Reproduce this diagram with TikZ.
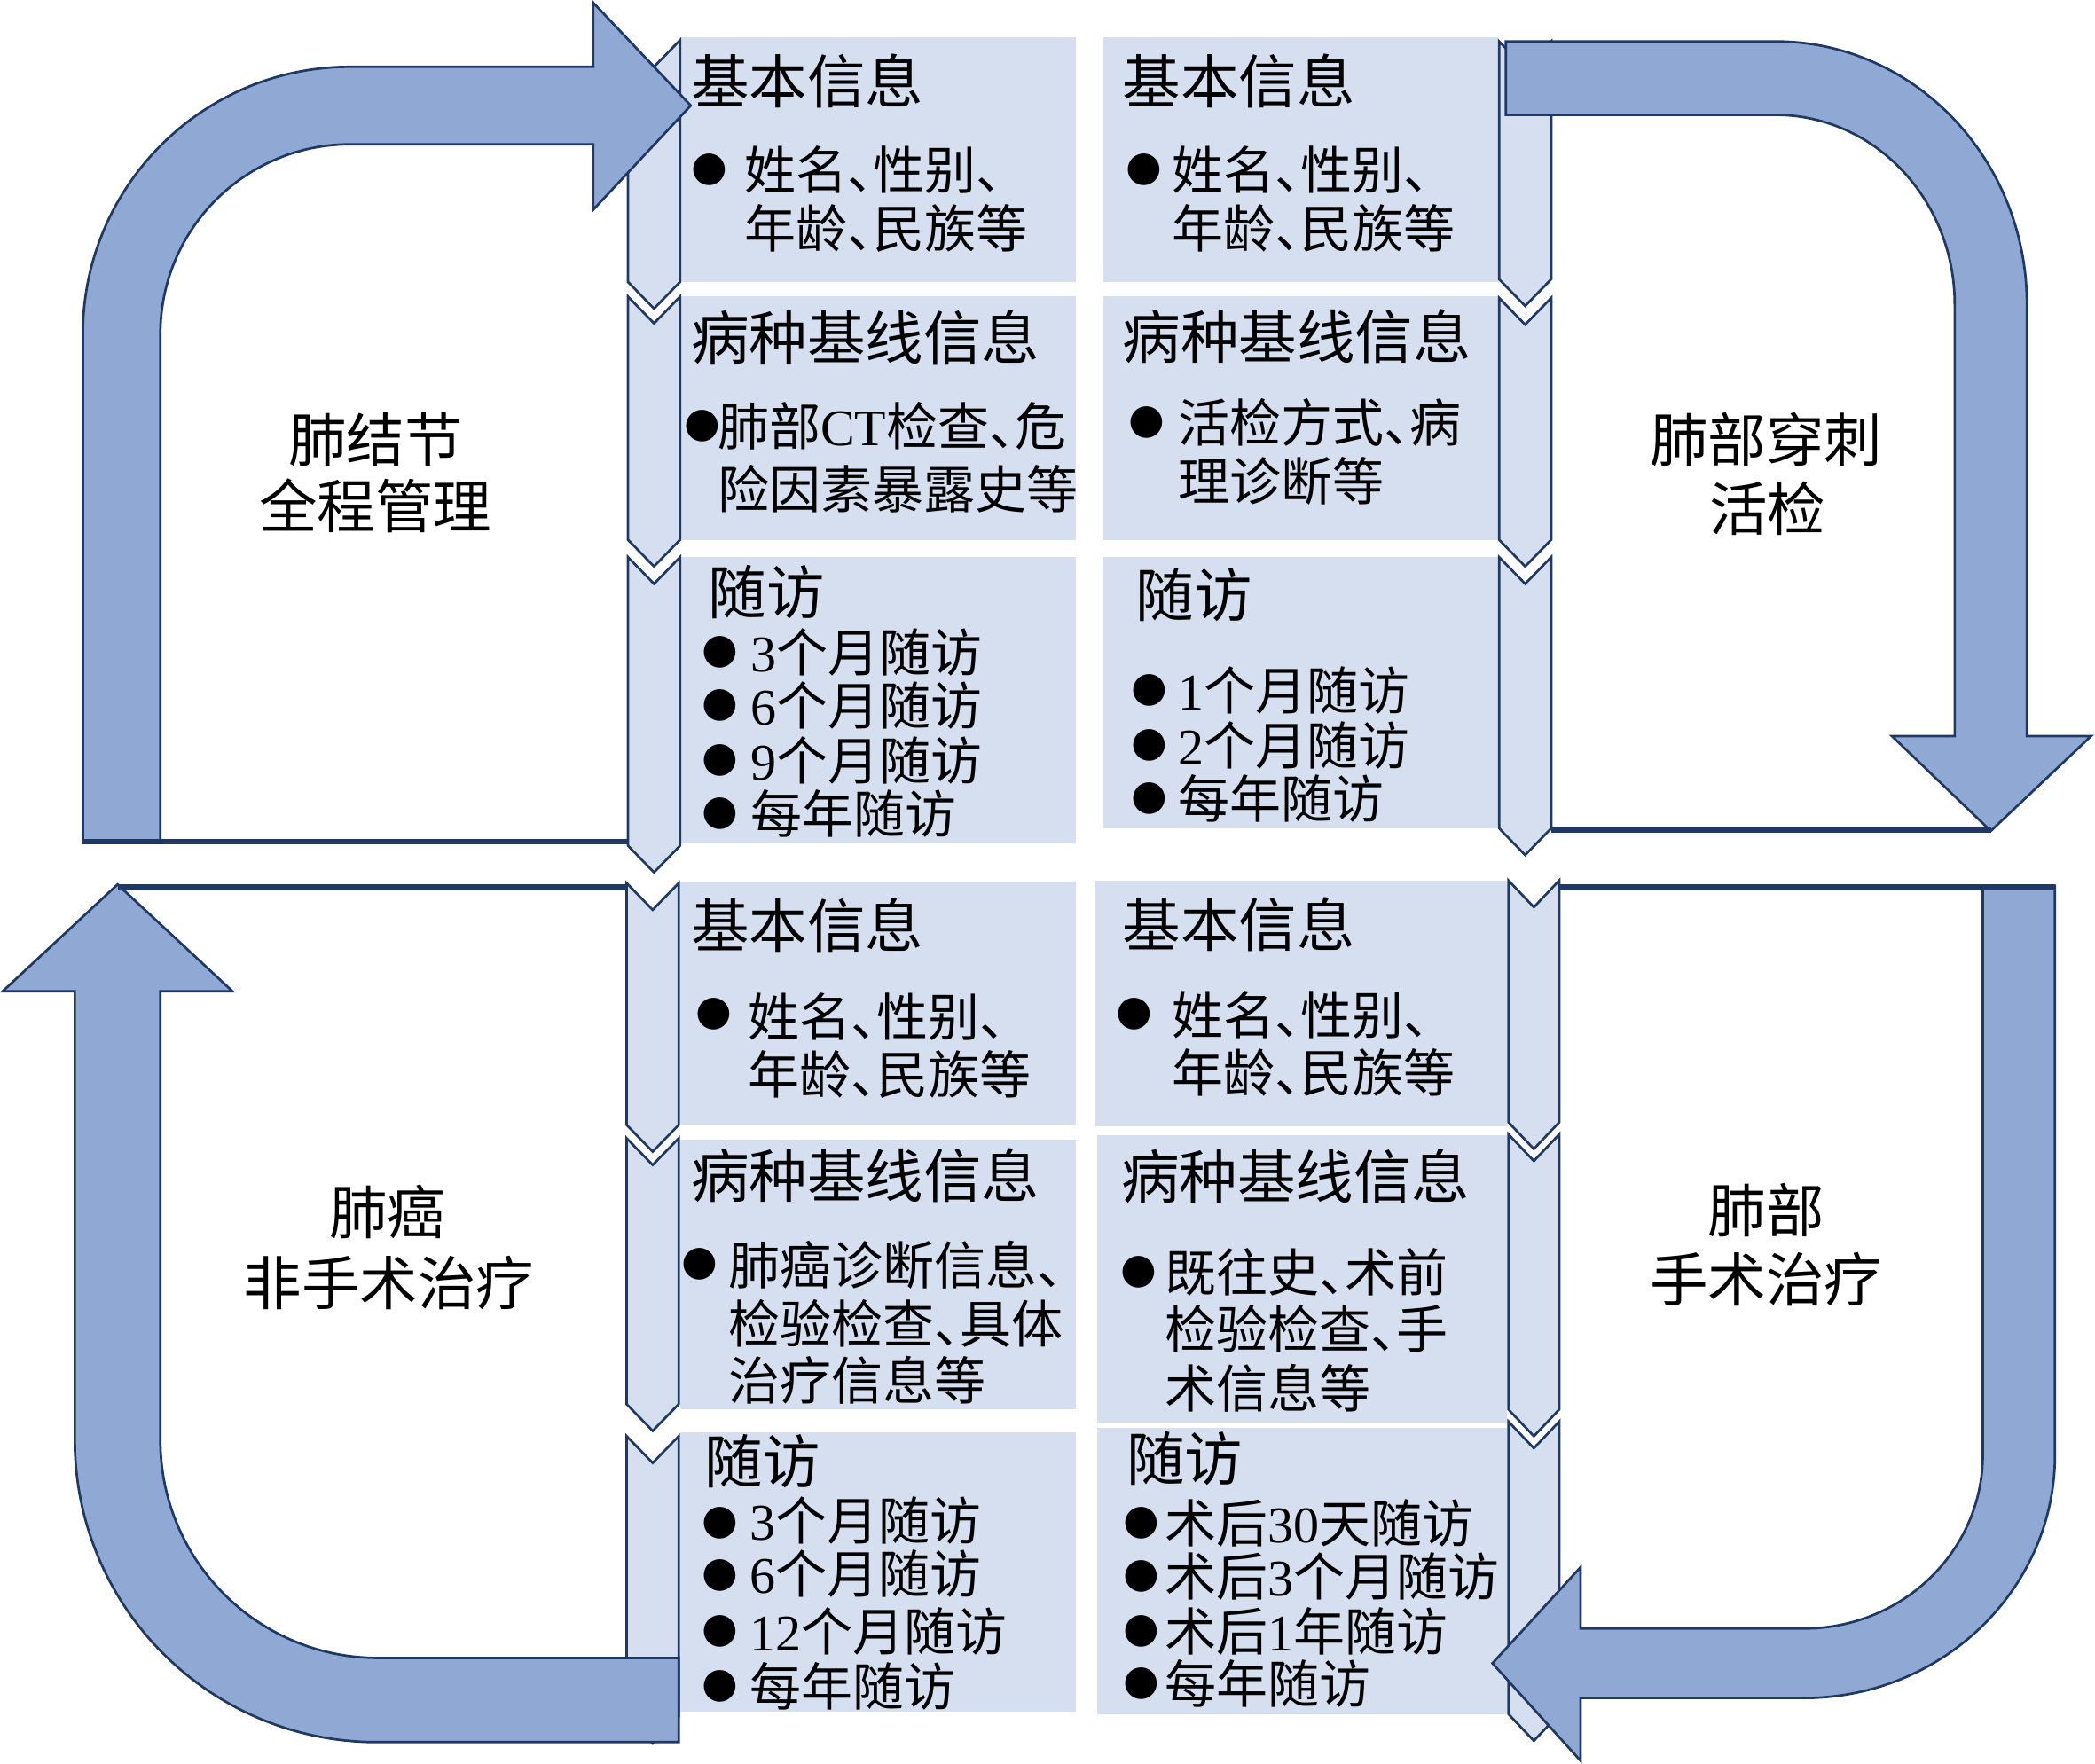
\documentclass[tikz,border=0pt]{standalone}
\usepackage{fontspec}
\setmainfont{Noto Sans CJK SC}
\newfontfamily\latf{Liberation Serif}
\newfontfamily\bulf{DejaVu Sans}
\definecolor{boxfill}{RGB}{214,223,239}
\definecolor{arrowfill}{RGB}{143,168,212}
\definecolor{navy}{RGB}{31,56,100}
\newcommand\dn{\makebox[0.5em][l]{、}}
\newcommand\nm[1]{{\latf #1}}
\tikzset{
  boxbg/.style={fill=boxfill},
  chevbox/.style={fill=boxfill, draw=navy, line width=1.8pt, line join=miter},
  bigarrow/.style={fill=arrowfill, draw=navy, line width=1.8pt, line join=miter},
  edgeline/.style={draw=navy, line width=4.5pt},
  ttl/.style={anchor=base west, inner sep=0pt, font=\fontsize{43.5}{50}\selectfont},
  bod/.style={anchor=base west, inner sep=0pt, font=\fontsize{38.5}{44}\selectfont},
  bul/.style={anchor=center, inner sep=0pt, font=\bulf\fontsize{31}{34}\selectfont},
  cen/.style={anchor=base, inner sep=0pt, font=\fontsize{43.5}{50}\selectfont},
}
% chevron: xl, xr, top, bottom
\newcommand\chevshape[4]{\draw[chevbox] (#1,#3) -- ({(#1+#2)/2},{#3+20}) -- (#2,#3) -- (#2,#4) -- ({(#1+#2)/2},{#4+20}) -- (#1,#4) -- cycle;}
% title / body / bullet / centre label: name, x, centre y, text
\newcommand\ttlnode[4]{\node[ttl] (#1) at (#2,{#3+16.5}) {#4};}
\newcommand\bodnode[4]{\node[bod] (#1) at (#2,{#3+14.6}) {#4};}
\newcommand\bulnode[3]{\node[bul] (#1) at (#2,#3) {●};}
\newcommand\cennode[4]{\node[cen] (#1) at (#2,{#3+16.5}) {#4};}
\begin{document}
\begin{tikzpicture}[x=1pt,y=-1pt]
\useasboundingbox (0,0) rectangle (1568,1320);
% ---------- boxes ----------
\fill[boxbg] (509,28) rectangle (805,211);
\fill[boxbg] (509,222) rectangle (805,404);
\fill[boxbg] (509,417) rectangle (805,631);
\fill[boxbg] (826,28) rectangle (1122,211);
\fill[boxbg] (826,222) rectangle (1122,404);
\fill[boxbg] (826,417) rectangle (1122,620);
\fill[boxbg] (509,660) rectangle (805,842);
\fill[boxbg] (509,853) rectangle (805,1055);
\fill[boxbg] (509,1072) rectangle (805,1281);
\fill[boxbg] (820,659) rectangle (1128,843);
\fill[boxbg] (821,850) rectangle (1128,1065);
\fill[boxbg] (821,1069) rectangle (1128,1283);
% ---------- chevrons ----------
\chevshape{470}{509}{30}{211}
\chevshape{470}{509}{222}{404}
\chevshape{470}{509}{417}{633}
\chevshape{469}{508}{661}{842}
\chevshape{469}{508}{852}{1051}
\chevshape{469}{508}{1075}{1285}
\chevshape{1122}{1161}{31}{209}
\chevshape{1122}{1161}{223}{404}
\chevshape{1122}{1161}{417}{620}
\chevshape{1129}{1167}{659}{840}
\chevshape{1129}{1167}{849}{1055}
\chevshape{1129}{1167}{1064}{1283}
% ---------- big arrows ----------
% top-left
\draw[bigarrow] (62,630) -- (62,250)
  arc[start angle=180, end angle=90, x radius=200pt, y radius=200pt]
  -- (444,50) -- (444,2) -- (517,79) -- (444,157) -- (444,108) -- (262,108)
  arc[start angle=90, end angle=180, x radius=142pt, y radius=142pt]
  -- (120,630) -- cycle;
% top-right
\draw[bigarrow] (1127,31) -- (1329,31)
  arc[start angle=90, end angle=0, x radius=188pt, y radius=197pt]
  -- (1517,551) -- (1565,551) -- (1490,622) -- (1416,551) -- (1463,551) -- (1463,228)
  arc[start angle=0, end angle=90, x radius=134pt, y radius=142pt]
  -- (1127,86) -- cycle;
% bottom-left
\draw[bigarrow] (508,1304) -- (282,1304)
  arc[start angle=270, end angle=180, x radius=226pt, y radius=226pt]
  -- (56,742) -- (2,742) -- (88,662) -- (174,742) -- (120,742) -- (120,1078)
  arc[start angle=180, end angle=270, x radius=163pt, y radius=163pt]
  -- (508,1241) -- cycle;
% bottom-right
\draw[bigarrow] (1484,663) -- (1538,663) -- (1538,1089)
  arc[start angle=0, end angle=-90, x radius=188pt, y radius=182pt]
  -- (1183,1271) -- (1183,1318) -- (1117,1245) -- (1183,1173) -- (1183,1219) -- (1350,1219)
  arc[start angle=-90, end angle=0, x radius=134pt, y radius=130pt]
  -- cycle;
% ---------- edge lines ----------
\coordinate (la) at (62,630);  \coordinate (lb) at (470,630);
\coordinate (lc) at (88,664);  \coordinate (ld) at (470,664);
\coordinate (le) at (1161,621); \coordinate (lf) at (1490,621);
\coordinate (lg) at (1167,664); \coordinate (lh) at (1538,664);
\draw[edgeline] (la) -- (lb);
\draw[edgeline] (lc) -- (ld);
\draw[edgeline] (le) -- (lf);
\draw[edgeline] (lg) -- (lh);
% ---------- centre labels ----------
\cennode{ca1}{281}{329}{肺结节}
\cennode{ca2}{281}{379}{全程管理}
\cennode{cb1}{1322}{329}{肺部穿刺}
\cennode{cb2}{1323}{381}{活检}
\cennode{cc1}{290}{907}{肺癌}
\cennode{cc2}{291}{960}{非手术治疗}
\cennode{cd1}{1322}{906}{肺部}
\cennode{cd2}{1322}{958}{手术治疗}
% ---------- top-left column ----------
\ttlnode{a1}{517}{61}{基本信息}
\bulnode{ab1}{531}{127}
\bodnode{a2}{557}{127}{姓名\dn 性别\dn}
\bodnode{a3}{557}{171}{年龄\dn 民族等}
\ttlnode{a4}{517}{253}{病种基线信息}
\bulnode{ab2}{526}{319}
\bodnode{a5}{537}{319}{肺部\nm{CT}检查\dn 危}
\bodnode{a6}{537}{366}{险因素暴露史等}
\ttlnode{a7}{530}{443}{随访}
\bulnode{ab3}{539}{488}
\bulnode{ab4}{539}{528}
\bulnode{ab5}{539}{569}
\bulnode{ab6}{539}{609}
\bodnode{a8}{562}{488}{\nm{3}个月随访}
\bodnode{a9}{562}{528}{\nm{6}个月随访}
\bodnode{a10}{562}{569}{\nm{9}个月随访}
\bodnode{a11}{562}{609}{每年随访}
% ---------- top-right column ----------
\ttlnode{b1}{840}{61}{基本信息}
\bulnode{bb1}{856}{127}
\bodnode{b2}{877}{127}{姓名\dn 性别\dn}
\bodnode{b3}{877}{171}{年龄\dn 民族等}
\ttlnode{b4}{840}{252}{病种基线信息}
\bulnode{bb2}{858}{316}
\bodnode{b5}{882}{316}{活检方式\dn 病}
\bodnode{b6}{882}{360}{理诊断等}
\ttlnode{b7}{850}{445}{随访}
\bulnode{bb3}{860}{517}
\bulnode{bb4}{860}{558}
\bulnode{bb5}{860}{598}
\bodnode{b8}{882}{517}{\nm{1}个月随访}
\bodnode{b9}{882}{558}{\nm{2}个月随访}
\bodnode{b10}{882}{598}{每年随访}
% ---------- bottom-left column ----------
\ttlnode{c1}{517}{693}{基本信息}
\bulnode{cb1b}{534}{759}
\bodnode{c2}{560}{761}{姓名\dn 性别\dn}
\bodnode{c3}{560}{804}{年龄\dn 民族等}
\ttlnode{c4}{517}{880}{病种基线信息}
\bulnode{cb2b}{524}{946}
\bodnode{c5}{545}{947}{肺癌诊断信息\dn}
\bodnode{c6}{545}{991}{检验检查\dn 具体}
\bodnode{c7}{545}{1033}{治疗信息等}
\ttlnode{c8}{527}{1094}{随访}
\bulnode{cb3b}{539}{1140}
\bulnode{cb4b}{539}{1179}
\bulnode{cb5b}{539}{1221}
\bulnode{cb6b}{539}{1262}
\bodnode{c9}{561}{1138}{\nm{3}个月随访}
\bodnode{c10}{561}{1178}{\nm{6}个月随访}
\bodnode{c11}{561}{1221}{\nm{12}个月随访}
\bodnode{c12}{561}{1262}{每年随访}
% ---------- bottom-right column ----------
\ttlnode{d1}{840}{692}{基本信息}
\bulnode{db1}{849}{759}
\bodnode{d2}{877}{760}{姓名\dn 性别\dn}
\bodnode{d3}{877}{803}{年龄\dn 民族等}
\ttlnode{d4}{839}{881}{病种基线信息}
\bulnode{db2}{852}{952}
\bodnode{d5}{872}{952}{既往史\dn 术前}
\bodnode{d6}{872}{995}{检验检查\dn 手}
\bodnode{d7}{872}{1039}{术信息等}
\ttlnode{d8}{843}{1092}{随访}
\bulnode{db3}{854}{1140}
\bulnode{db4}{854}{1180}
\bulnode{db5}{854}{1221}
\bulnode{db6}{854}{1260}
\bodnode{d9}{872}{1140}{术后\nm{30}天随访}
\bodnode{d10}{872}{1180}{术后\nm{3}个月随访}
\bodnode{d11}{872}{1221}{术后\nm{1}年随访}
\bodnode{d12}{872}{1260}{每年随访}
\end{tikzpicture}
\end{document}
